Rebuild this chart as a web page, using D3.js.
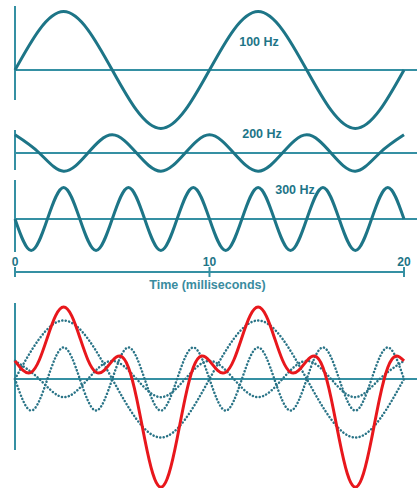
<!DOCTYPE html>
<html>
<head>
<meta charset="utf-8">
<style>
body { margin: 0; background: #fff; }
text { font-family: "Liberation Sans", Arial, sans-serif; font-weight: bold; }
</style>
</head>
<body>
<svg width="417" height="488"></svg>
<script src="https://d3js.org/d3.v7.min.js"></script>
<script>
// tone samples (relative amplitude) at peaks, troughs and zero crossings, 0..20 ms
var tone100 = [0, 1, 0, -1, 0, 1, 0, -1, 0];
var tone200 = [0.31, 0, -0.31, 0, 0.31, 0, -0.31, 0, 0.31, 0, -0.31, 0, 0.31, 0, -0.31, 0, 0.31];
var tone300 = [0, -0.54, 0, 0.54, 0, -0.54, 0, 0.54, 0, -0.54, 0, 0.54, 0,
               -0.54, 0, 0.54, 0, -0.54, 0, 0.54, 0, -0.54, 0, 0.54, 0];
// combined wave read every 5/12 ms
var sumWave = [0.31, 0.146, 0.115, 0.325, 0.711, 1.079, 1.23, 1.079, 0.711, 0.325, 0.115, 0.146,
               0.31, 0.392, 0.195, -0.325, -1.021, -1.616, -1.85, -1.616, -1.021, -0.325, 0.195, 0.392,
               0.31, 0.146, 0.115, 0.325, 0.711, 1.079, 1.23, 1.079, 0.711, 0.325, 0.115, 0.146,
               0.31, 0.392, 0.195, -0.325, -1.021, -1.616, -1.85, -1.616, -1.021, -0.325, 0.195, 0.392,
               0.31];
var toneLabels = ["100 Hz", "200 Hz", "300 Hz"];
var timeTicks = [0, 10, 20];
var timeTitle = "Time (milliseconds)";

var svg = d3.select("svg"),
    width = +svg.attr("width"),
    height = +svg.attr("height");

var teal = "#1d7587",
    axisTeal = "#3590a3",
    red = "#e8171c";

var x = d3.scaleLinear().domain([0, 20]).range([15, 404]);

function yScale(base) {
  return d3.scaleLinear().domain([-1, 1]).range([base + 58.5, base - 58.5]);
}

function pts(vals) {
  var step = 20 / (vals.length - 1);
  return vals.map(function(v, i) { return [i * step, v]; });
}

function wave(g, vals, y) {
  return g.append("path")
    .datum(pts(vals))
    .attr("fill", "none")
    .attr("d", d3.line()
      .curve(d3.curveNatural)
      .x(function(d) { return x(d[0]); })
      .y(function(d) { return y(d[1]); }));
}

function frame(base, top, bottom) {
  svg.append("line")
    .attr("x1", 15).attr("x2", width)
    .attr("y1", base).attr("y2", base)
    .attr("stroke", axisTeal).attr("stroke-width", 2);
  svg.append("line")
    .attr("x1", 15).attr("x2", 15)
    .attr("y1", top).attr("y2", bottom)
    .attr("stroke", axisTeal).attr("stroke-width", 2);
}

// three single tones
var panels = [
  {vals: tone100, base: 70, top: 6, bottom: 100, lx: 259, ly: 46},
  {vals: tone200, base: 153, top: 130, bottom: 170, lx: 262, ly: 138},
  {vals: tone300, base: 219, top: 180, bottom: 252, lx: 295, ly: 194}
];

panels.forEach(function(p, i) {
  frame(p.base, p.top, p.bottom);
  wave(svg, p.vals, yScale(p.base))
    .attr("stroke", teal)
    .attr("stroke-width", 3);
  svg.append("text")
    .attr("x", p.lx).attr("y", p.ly)
    .attr("text-anchor", "middle")
    .attr("font-size", 12.5)
    .attr("fill", teal)
    .text(toneLabels[i]);
});

// time axis
var axisG = svg.append("g").attr("transform", "translate(0,272)");
axisG.append("line")
  .attr("x1", x(0)).attr("x2", x(20))
  .attr("stroke", axisTeal).attr("stroke-width", 2);
axisG.selectAll(".tick")
  .data(timeTicks)
  .enter().append("line")
    .attr("x1", function(d) { return x(d); })
    .attr("x2", function(d) { return x(d); })
    .attr("y1", -5).attr("y2", 5)
    .attr("stroke", axisTeal).attr("stroke-width", 2);
axisG.selectAll(".lab")
  .data(timeTicks)
  .enter().append("text")
    .attr("x", function(d) { return x(d); })
    .attr("y", -6)
    .attr("text-anchor", "middle")
    .attr("font-size", 12)
    .attr("font-weight", "normal")
    .attr("fill", teal)
    .text(function(d) { return d; });
axisG.append("text")
  .attr("x", x(10) - 2)
  .attr("y", 17)
  .attr("text-anchor", "middle")
  .attr("font-size", 12.5)
  .attr("fill", "#3a8c9f")
  .text(timeTitle);

// combined panel
var base4 = 379, y4 = yScale(base4);
frame(base4, 303, 450);
[tone100, tone200, tone300].forEach(function(vals) {
  wave(svg, vals, y4)
    .attr("stroke", "#2a7487")
    .attr("stroke-width", 2.5)
    .attr("stroke-linecap", "round")
    .attr("stroke-dasharray", "0.1 3.4");
});
wave(svg, sumWave, y4)
  .attr("stroke", red)
  .attr("stroke-width", 3);
</script>
</body>
</html>
